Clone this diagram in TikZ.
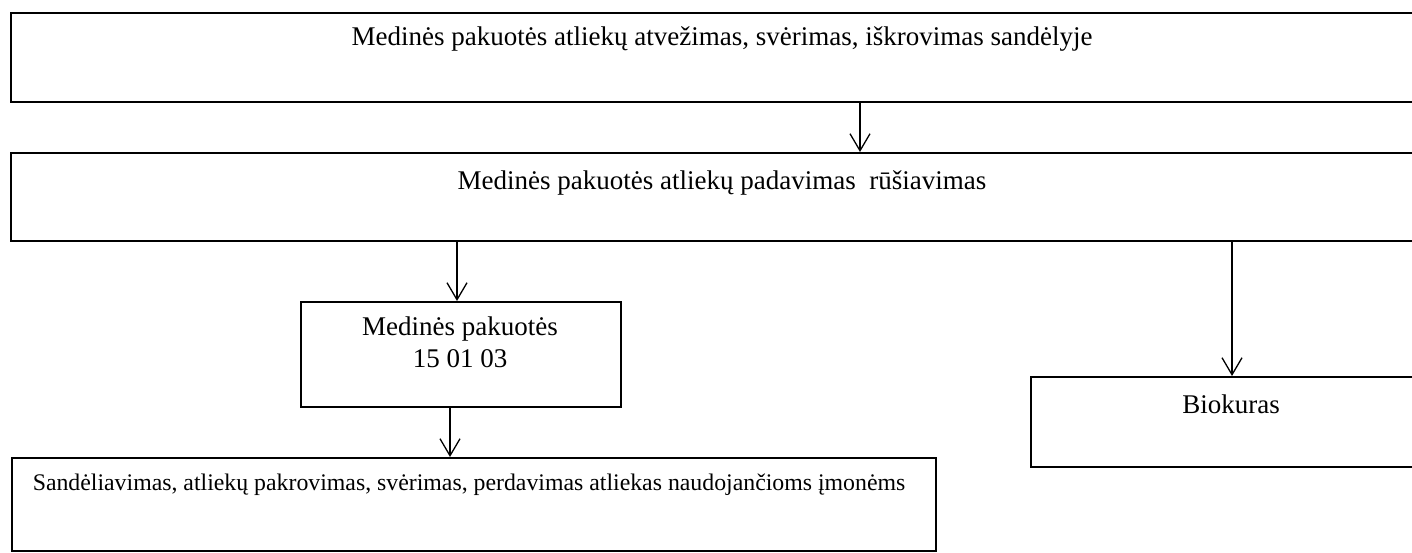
\documentclass[tikz,border=0pt]{standalone}
\usepackage{fontspec}
\setmainfont{Liberation Serif}
\usetikzlibrary{arrows.meta}
\begin{document}
\begin{tikzpicture}[x=1pt,y=-1pt,
  box/.style={draw=black, line width=1.8pt, fill=none, inner sep=0pt, anchor=north west},
  txt/.style={inner sep=0pt, font=\fontsize{27}{27}\selectfont},
  arr/.style={draw=black, line width=1.3pt, -{Straight Barb[length=17pt,width=20pt,line width=1.3pt]}}]
\clip (0,0) rectangle (1412,553);
\fill[white] (0,0) rectangle (1412,553);
\node[box, minimum width=1424pt, minimum height=89pt] (b1) at (10,12) {};
\node[box, minimum width=1424pt, minimum height=88pt] (b2) at (10,152) {};
\node[box, minimum width=320pt, minimum height=105pt] (b3) at (300,301) {};
\node[box, minimum width=924pt, minimum height=93pt] (b4) at (11,457) {};
\node[box, minimum width=402pt, minimum height=90pt] (b5) at (1030,376) {};
\node[txt, anchor=base] (t1) at (722,46) {Medinės pakuotės atliekų atvežimas, svėrimas, iškrovimas sandėlyje};
\node[txt, anchor=base] (t2) at (722,190) {Medinės pakuotės atliekų padavimas\ \ rūšiavimas};
\node[txt, anchor=base] (t3a) at (460,335) {Medinės pakuotės};
\node[txt, anchor=base] (t3b) at (460,367) {15 01 03};
\node[txt, anchor=base, font=\fontsize{23.8}{23.8}\selectfont] (t4) at (469,490) {Sandėliavimas, atliekų pakrovimas, svėrimas, perdavimas atliekas naudojančioms įmonėms};
\node[txt, anchor=base] (t5) at (1231,413) {Biokuras};
\coordinate (x1) at (860,0);
\coordinate (x2) at (457,0);
\coordinate (x3) at (450,0);
\coordinate (x4) at (1232,0);
\draw[arr] (x1 |- b1.south) -- (x1 |- b2.north);
\draw[arr] (x2 |- b2.south) -- (x2 |- b3.north);
\draw[arr] (x3 |- b3.south) -- (x3 |- b4.north);
\draw[arr] (x4 |- b2.south) -- (x4 |- b5.north);
\end{tikzpicture}
\end{document}
